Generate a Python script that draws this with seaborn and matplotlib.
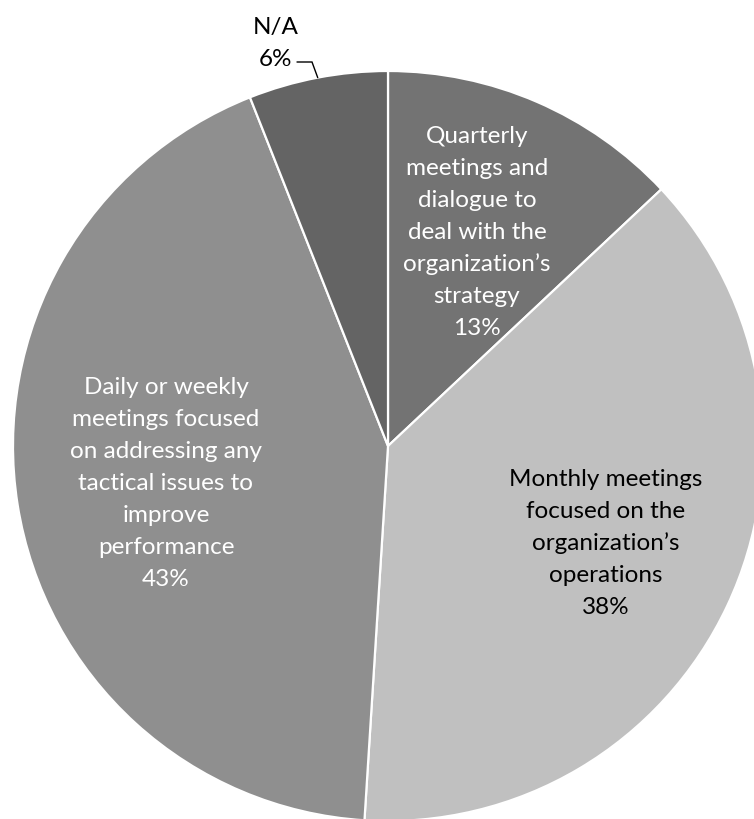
import matplotlib
matplotlib.use("Agg")
import matplotlib.pyplot as plt
import numpy as np
import seaborn as sns

# Survey answers, clockwise from 12 o'clock
categories = [
    "Quarterly\nmeetings and\ndialogue to\ndeal with the\norganization\u2019s\nstrategy",
    "Monthly meetings\nfocused on the\norganization\u2019s\noperations",
    "Daily or weekly\nmeetings focused\non addressing any\ntactical issues to\nimprove\nperformance",
    "N/A",
]
shares = [13, 38, 43, 6]
slice_colors = ["#737373", "#c0c0c0", "#8f8f8f", "#646464"]
text_colors = ["white", "black", "white", "black"]

W, H = 754, 820
sns.set_theme(style="white")
plt.rcParams["font.family"] = ["Lato", "DejaVu Sans"]

fig = plt.figure(figsize=(W / 100, H / 100), dpi=100)
ax = fig.add_axes([0, 0, 1, 1])

cx, cy, R = 388, H - 447, 375
wedges, _ = ax.pie(
    shares,
    colors=sns.color_palette(slice_colors),
    startangle=90,
    counterclock=False,
    center=(cx, cy),
    radius=R,
    wedgeprops=dict(edgecolor="white", linewidth=1.6),
)
ax.set_xlim(0, W)
ax.set_ylim(0, H)
ax.set_aspect("equal")
ax.axis("off")

fs = 17.5
pitch = 32
# label block centres (x, y measured from the top)
anchors = [(477, 230), (606, 541), (166, 481), (276, 41)]

for name, val, col, (lx, ly) in zip(categories, shares, text_colors, anchors):
    lines = name.split("\n") + [f"{val}%"]
    n = len(lines)
    for i, line in enumerate(lines):
        yc = ly + (i - (n - 1) / 2) * pitch
        ax.text(lx, H - yc - 0.36 * fs * 100 / 72, line, ha="center", va="baseline",
                fontsize=fs, color=col)

# leader line for the small outside label
w = wedges[3]
mid = np.deg2rad((w.theta1 + w.theta2) / 2)
ex, ey = cx + R * np.cos(mid), cy + R * np.sin(mid)
ax.plot([297, 312, ex], [H - 63, H - 63, ey], color="black", lw=1.0,
        solid_joinstyle="miter")

fig.savefig("out.png", dpi=100)
